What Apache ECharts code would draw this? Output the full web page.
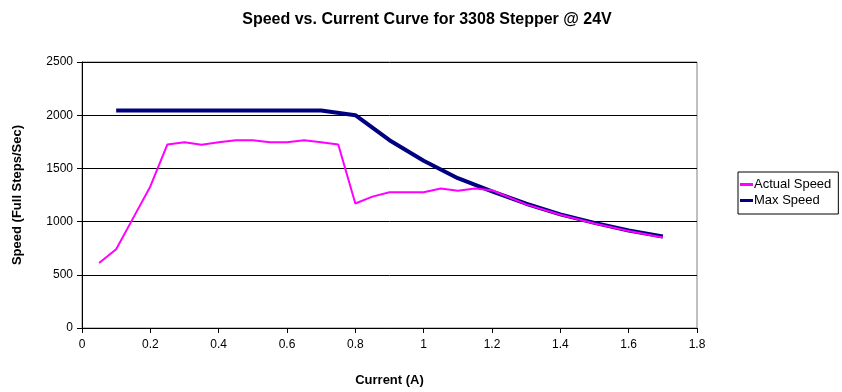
<!DOCTYPE html>
<html><head><meta charset="utf-8">
<script src="https://cdn.jsdelivr.net/npm/echarts@6/dist/echarts.min.js"></script>
<style>html,body{margin:0;padding:0;background:#fff}#c{width:842px;height:392px}</style>
</head><body><div id="c"></div>
<script>
const actualX = [0.05,0.1,0.15,0.2,0.25,0.3,0.35,0.4,0.45,0.5,0.55,0.6,0.65,0.7,0.75,0.8,0.85,0.9,0.95,1.0,1.05,1.1,1.15,1.2,1.3,1.4,1.5,1.6,1.7];
const actualY = [610,740,1035,1330,1725,1745,1723,1745,1765,1765,1745,1745,1765,1745,1725,1170,1235,1275,1275,1275,1312,1290,1312,1295,1162,1065,982,912,850];
const maxX = [0.1,0.2,0.3,0.4,0.5,0.6,0.7,0.8,0.9,1.0,1.1,1.2,1.3,1.4,1.5,1.6,1.7];
const maxY = [2045,2045,2045,2045,2045,2045,2045,2000,1765,1572,1408,1285,1168,1068,988,917,860];
const seriesNames = ['Actual Speed','Max Speed'];
const xTicks = {min:0,max:1.8,interval:0.2};
const yTicks = {min:0,max:2500,interval:500};

const font = 'Liberation Sans, Arial, sans-serif';
const chart = echarts.init(document.getElementById('c'), null, {renderer:'canvas'});
chart.setOption({
  animation:false,
  backgroundColor:'#fff',
  title:{text:'Speed vs. Current Curve for 3308 Stepper @ 24V',left:422,textAlign:'center',top:7,
    textStyle:{fontFamily:font,fontSize:16,fontWeight:'bold',color:'#000'}},
  grid:{left:82,right:145,top:62,bottom:62,show:true,borderColor:'#808080',borderWidth:1,backgroundColor:'transparent'},
  legend:{data:seriesNames,orient:'vertical',left:738,top:172,borderColor:'#000',borderWidth:1,
    padding:[6,7,7,2],itemGap:3,itemWidth:13,itemHeight:3,icon:'rect',
    textStyle:{fontFamily:font,fontSize:13,color:'#000',padding:[0,0,0,-4]}},
  xAxis:{type:'value',min:xTicks.min,max:xTicks.max,interval:xTicks.interval,
    name:'Current (A)',nameLocation:'middle',nameGap:46,
    nameTextStyle:{fontFamily:font,fontSize:13,fontWeight:'bold',color:'#000'},
    axisLine:{show:true,onZero:false,lineStyle:{color:'#000',width:1}},
    axisTick:{show:true,length:5,lineStyle:{color:'#000'}},
    axisLabel:{fontFamily:font,fontSize:12,color:'#000',margin:11,formatter:v=>String(+v.toFixed(1))},
    splitLine:{show:false}},
  yAxis:{type:'value',min:yTicks.min,max:yTicks.max,interval:yTicks.interval,
    name:'Speed (Full Steps/Sec)',nameLocation:'middle',nameGap:58,
    nameTextStyle:{fontFamily:font,fontSize:13,fontWeight:'bold',color:'#000'},
    axisLine:{show:true,lineStyle:{color:'#000',width:1}},
    axisTick:{show:true,length:5,lineStyle:{color:'#000'}},
    axisLabel:{fontFamily:font,fontSize:12,color:'#000',margin:9,formatter:v=>String(v)},
    splitLine:{show:true,lineStyle:{color:'#000',width:1}}},
  series:[
    {name:seriesNames[1],type:'line',data:maxX.map((x,i)=>[x,maxY[i]]),showSymbol:false,symbol:'none',
      lineStyle:{color:'#000080',width:4},itemStyle:{color:'#000080'},z:2},
    {name:seriesNames[0],type:'line',data:actualX.map((x,i)=>[x,actualY[i]]),showSymbol:false,symbol:'none',
      lineStyle:{color:'#FF00FF',width:2},itemStyle:{color:'#FF00FF'},z:3}
  ]
});
</script></body></html>
